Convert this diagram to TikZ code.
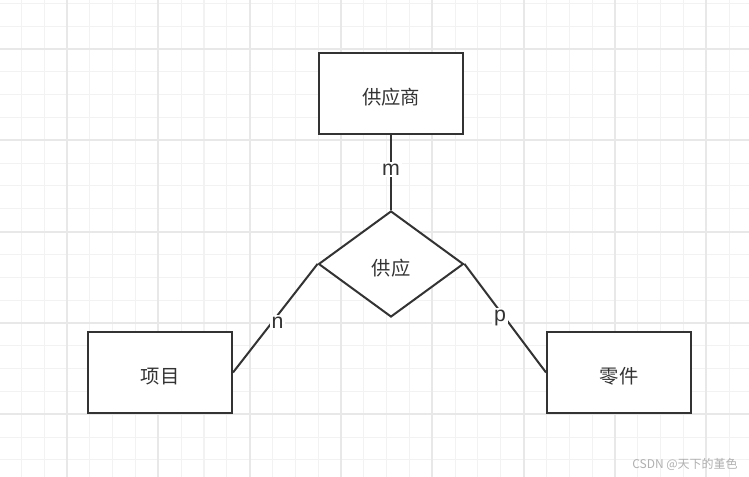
\documentclass[tikz,border=0pt]{standalone}
\usepackage{fontspec}
\setmainfont{Liberation Sans}
\newfontfamily\cjk{Noto Sans CJK SC}
\usetikzlibrary{shapes.geometric}
\definecolor{ink}{HTML}{333333}
\definecolor{gridminor}{HTML}{F2F2F2}
\definecolor{gridmajor}{HTML}{E8E8E8}
\definecolor{wm}{HTML}{B0B0B0}
\tikzset{
  entity/.style={draw=ink, line width=1.5pt, fill=white, minimum width=108pt, minimum height=60.75pt, inner sep=0pt, font=\cjk\fontsize{14.5pt}{16pt}\selectfont, text=ink, text height=17pt, text depth=0pt},
  relation/.style={draw=ink, line width=1.5pt, fill=white, diamond, minimum width=108.75pt, minimum height=79.5pt, inner sep=0pt, font=\cjk\fontsize{14.5pt}{16pt}\selectfont, text=ink, text height=17pt, text depth=0pt},
  conn/.style={draw=ink, line width=1.5pt},
  card/.style={fill=white, inner sep=1.5pt, text=ink, font=\fontsize{16pt}{17pt}\selectfont},
}
\begin{document}
\begin{tikzpicture}[x=0.75pt, y=-0.75pt]
\useasboundingbox (0,0) rectangle (749,477);
\fill[white] (0,0) rectangle (749,477);
\begin{scope}
\clip (0,0) rectangle (749,477);
\foreach \i in {0,...,33} {
  \pgfmathsetmacro{\xx}{-1.5+22.83*\i}
  \draw[gridminor, line width=0.8pt] (\xx,0) -- (\xx,477);
}
\foreach \i in {0,...,21} {
  \pgfmathsetmacro{\yy}{3.3+22.83*\i}
  \draw[gridminor, line width=0.8pt] (0,\yy) -- (749,\yy);
}
\foreach \i in {0,...,8} {
  \pgfmathsetmacro{\xx}{-24.33+91.33*\i}
  \draw[gridmajor, line width=1.3pt] (\xx,0) -- (\xx,477);
}
\foreach \i in {0,...,5} {
  \pgfmathsetmacro{\yy}{-42.33+91.33*\i}
  \draw[gridmajor, line width=1.3pt] (0,\yy) -- (749,\yy);
}
\end{scope}

\node[entity] (sup) at (391,93.5) {供应商};
\node[relation] (rel) at (391,264) {供应};
\node[entity] (proj) at (160,372.5) {项目};
\node[entity] (part) at (619,372.5) {零件};

\draw[conn] (sup.south) -- node[card, pos=0.46] {m} (rel.north);
\draw[conn] (rel.west) -- node[card, pos=0.52, xshift=3pt, yshift=-1.5pt] {n} (proj.east);
\draw[conn] (rel.east) -- node[card, pos=0.47, xshift=-2pt, yshift=-2pt] {p} (part.west);

\node[anchor=east, text=wm, font=\cjk\fontsize{9pt}{10pt}\selectfont, inner sep=0pt] (wmk) at (738,464.5) {CSDN @天下的堇色};
\end{tikzpicture}
\end{document}
